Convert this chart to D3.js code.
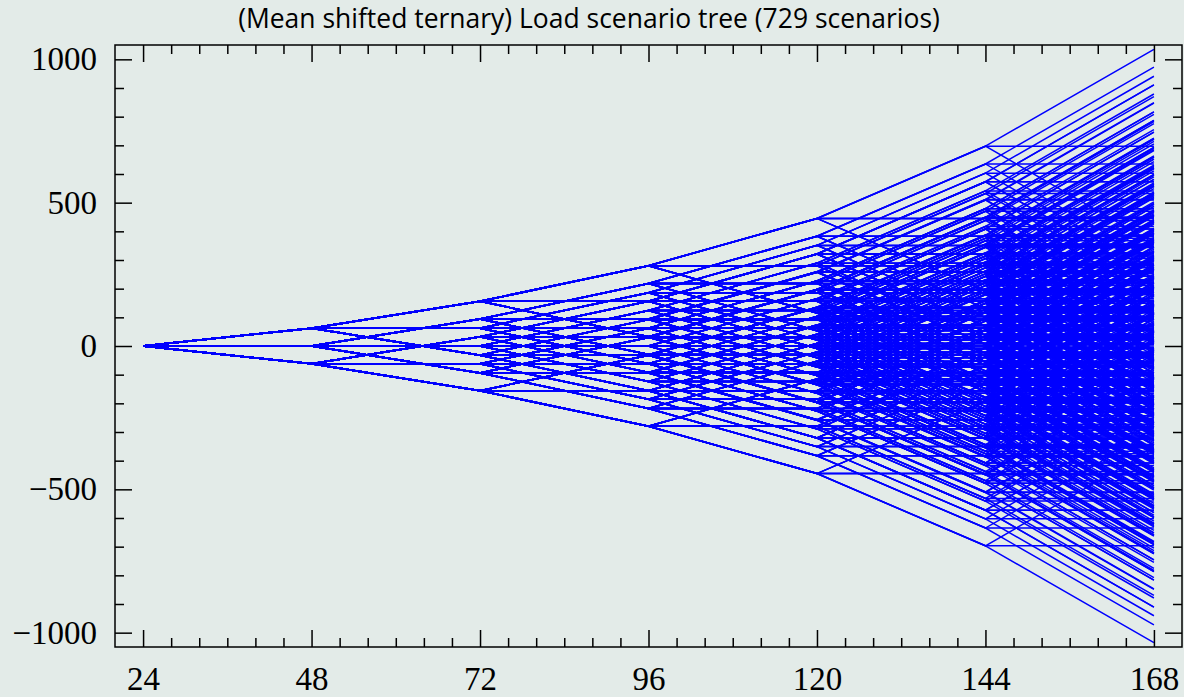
<!DOCTYPE html>
<html>
<head>
<meta charset="utf-8">
<script src="https://cdn.jsdelivr.net/npm/d3@7"></script>
<style>
  html, body { margin: 0; padding: 0; background: #e3ebe8; }
  svg { display: block; }
</style>
</head>
<body>
<svg id="chart"></svg>
<script>
// stage times (hours) of the scenario tree
const stageHours = [24, 48, 72, 96, 120, 144, 168];
// branch spread added at each stage
const branchSteps = [62, 94, 124, 165, 252, 338];
// the three branches of every node: up, stay, down
const branchMoves = [1, 0, -1];
const startValue = 0;

const xTicksMajor = [24, 48, 72, 96, 120, 144, 168];
const yTicksMajor = [-1000, -500, 0, 500, 1000];

const titleText = '(Mean shifted ternary) Load scenario tree (729 scenarios)';

let WIDTH = 1184;
let HEIGHT = 697;
const plotLeft = 115, plotRight = 1182, plotTop = 45, plotBottom = 647;

// enumerate all 3^6 scenarios as paths through the tree
let scenarios = [[startValue]];
branchSteps.forEach(function (step) {
  const next = [];
  scenarios.forEach(function (s) {
    branchMoves.forEach(function (m) {
      next.push(s.concat([s[s.length - 1] + m * step]));
    });
  });
  scenarios = next;
});

const svg = d3.select('#chart')
  .attr('width', WIDTH)
  .attr('height', HEIGHT);

svg.append('rect')
  .attr('width', WIDTH).attr('height', HEIGHT)
  .attr('fill', '#e3ebe8');

const xScale = d3.scaleLinear().domain([20, 172]).range([plotLeft, plotRight]);
const yScale = d3.scaleLinear().domain([-1050, 1050]).range([plotBottom, plotTop]);

svg.append('defs').append('clipPath').attr('id', 'plotclip')
  .append('rect')
  .attr('x', plotLeft).attr('y', plotTop)
  .attr('width', plotRight - plotLeft).attr('height', plotBottom - plotTop);

const line = d3.line()
  .x(function (d, i) { return xScale(stageHours[i]); })
  .y(function (d) { return yScale(d); });

svg.append('g')
  .attr('clip-path', 'url(#plotclip)')
  .selectAll('path')
  .data(scenarios)
  .enter()
  .append('path')
  .attr('d', line)
  .attr('fill', 'none')
  .attr('stroke', '#0000ff')
  .attr('stroke-width', 1.5);

// minor tick positions
const xTicksMinor = d3.range(24, 169, 4).filter(function (v) { return xTicksMajor.indexOf(v) < 0; });
const yTicksMinor = d3.range(-1000, 1001, 100).filter(function (v) { return yTicksMajor.indexOf(v) < 0; });

function styleAxis(g) {
  g.select('.domain').remove();
  g.selectAll('line').attr('stroke', '#000').attr('stroke-width', 1.5);
  g.selectAll('text')
    .attr('font-family', '"Liberation Serif", "Times New Roman", serif')
    .attr('font-size', 33)
    .attr('fill', '#000');
}

const fmt = function (d) { return d < 0 ? '\u2212' + Math.abs(d) : String(d); };

// bottom
svg.append('g').attr('transform', 'translate(0,' + plotBottom + ')')
  .call(d3.axisBottom(xScale).tickValues(xTicksMajor).tickSize(-17).tickPadding(20))
  .call(styleAxis);
svg.append('g').attr('transform', 'translate(0,' + plotBottom + ')')
  .call(d3.axisBottom(xScale).tickValues(xTicksMinor).tickSize(-9).tickFormat(''))
  .call(styleAxis);
// top
svg.append('g').attr('transform', 'translate(0,' + plotTop + ')')
  .call(d3.axisTop(xScale).tickValues(xTicksMajor).tickSize(-17).tickFormat(''))
  .call(styleAxis);
svg.append('g').attr('transform', 'translate(0,' + plotTop + ')')
  .call(d3.axisTop(xScale).tickValues(xTicksMinor).tickSize(-9).tickFormat(''))
  .call(styleAxis);
// left
svg.append('g').attr('transform', 'translate(' + plotLeft + ',0)')
  .call(d3.axisLeft(yScale).tickValues(yTicksMajor).tickSize(-17).tickPadding(18).tickFormat(fmt))
  .call(styleAxis);
svg.append('g').attr('transform', 'translate(' + plotLeft + ',0)')
  .call(d3.axisLeft(yScale).tickValues(yTicksMinor).tickSize(-9).tickFormat(''))
  .call(styleAxis);
// right
svg.append('g').attr('transform', 'translate(' + plotRight + ',0)')
  .call(d3.axisRight(yScale).tickValues(yTicksMajor).tickSize(-17).tickFormat(''))
  .call(styleAxis);
svg.append('g').attr('transform', 'translate(' + plotRight + ',0)')
  .call(d3.axisRight(yScale).tickValues(yTicksMinor).tickSize(-9).tickFormat(''))
  .call(styleAxis);

// frame
svg.append('rect')
  .attr('x', plotLeft).attr('y', plotTop)
  .attr('width', plotRight - plotLeft).attr('height', plotBottom - plotTop)
  .attr('fill', 'none')
  .attr('stroke', '#000')
  .attr('stroke-width', 1.5);

// title, sized to span the same width as in the original
const title = svg.append('text')
  .attr('x', 589)
  .attr('y', 28)
  .attr('text-anchor', 'middle')
  .attr('font-family', '"Open Sans", "DejaVu Sans", sans-serif')
  .attr('font-size', 24)
  .attr('fill', '#000')
  .text(titleText);
const w = title.node().getComputedTextLength();
title.attr('font-size', 24 * 702 / w);
</script>
</body>
</html>
